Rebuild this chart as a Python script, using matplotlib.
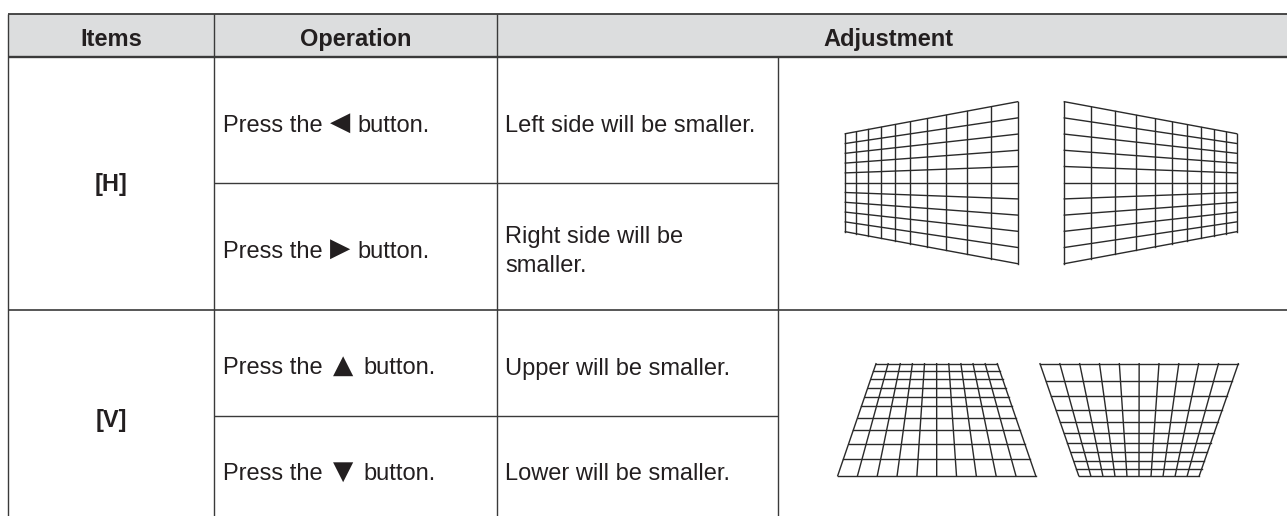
import matplotlib
matplotlib.use("Agg")
import matplotlib.pyplot as plt

W, H = 1287, 516

# table layout, in picture pixels
col_x = [8, 214, 497, 778, 1287]
row_y = [13.5, 57, 183.3, 310, 415.7]
header_labels = ["Items", "Operation", "Adjustment"]
item_labels = ["[H]", "[V]"]
item_y = [191, 426.7]
press_label = "Press the"
button_label = "button."
arrow_labels = ["\u25c0", "\u25b6", "\u25b2", "\u25bc"]
arrow_x = [339.7, 340.5, 342.7, 342.7]
arrow_y = [122.5, 249, 366, 472]
button_x = [357.7, 357.7, 363.3, 363.3]
op_y = [131.7, 258, 374.5, 480]
adjustment_labels = ["Left side will be smaller.", "Right side will be\nsmaller.",
                     "Upper will be smaller.", "Lower will be smaller."]
adjustment_y = [131.7, 271.7, 374.5, 480]

# keystone grids: line positions
hl_x = [845.3, 856.3, 868, 880.7, 894.7, 910, 927, 945.7, 967, 991, 1017.7]
hl_y_narrow = [133.7, 231.7]
hl_y_wide = [101.7, 263.7]
hr_x = [1064.3, 1091.3, 1115, 1136, 1155, 1172, 1187.3, 1201.3, 1214.3, 1225.7, 1236.7]
hr_y_narrow = [133.7, 231.7]
hr_y_wide = [101.7, 263.7]
vl_y = [363.7, 371.3, 379, 387.7, 396.7, 406.3, 417.7, 429.7, 443.7, 459, 475.7]
vl_x_narrow = [876, 997.3]
vl_x_wide = [837.7, 1035.7]
vr_y = [363.7, 380.7, 396, 409.7, 422, 433, 443, 452.3, 461, 468.7, 475.7]
vr_x_wide = [1040, 1238.3]
vr_x_narrow = [1078.7, 1199.3]

plt.rcParams['font.family'] = ['Liberation Sans', 'DejaVu Sans']
text_color = '#231f20'
line_color = '#3a3a3a'
grid_color = '#2a2a2a'
font_size = 17

fig = plt.figure(figsize=(W / 100, H / 100), dpi=100)
ax = fig.add_axes([0, 0, 1, 1])
ax.set_xlim(0, W)
ax.set_ylim(H, 0)
ax.axis('off')

# header
ax.fill_between([col_x[0], col_x[-1]], row_y[0], row_y[1], color='#dcddde', lw=0)


def hline(y, x0, x1, lw=1.0):
    ax.plot([x0, x1], [y, y], c=line_color, lw=lw, solid_capstyle='butt')


def vline(x, y0, y1, lw=1.0):
    ax.plot([x, x], [y0, y1], c=line_color, lw=lw, solid_capstyle='butt')


hline(row_y[0], col_x[0], col_x[-1], 1.3)
hline(row_y[1], col_x[0], col_x[-1], 1.7)
hline(row_y[3], col_x[0], col_x[-1], 1.2)
hline(row_y[2], col_x[1], col_x[3], 1.0)
hline(row_y[4], col_x[1], col_x[3], 1.0)
vline(col_x[0], row_y[0], H)
vline(col_x[1], row_y[0], H)
vline(col_x[2], row_y[0], H)
vline(col_x[3], row_y[1], H)

# header text
for i in range(3):
    x = (col_x[i] + col_x[i + 1]) / 2
    if i == 2:
        x = (col_x[2] + 1279) / 2
    ax.text(x, 45.7, header_labels[i], ha='center', va='baseline',
            fontsize=font_size, fontweight='bold', color=text_color)

# body text
for i in range(2):
    ax.text((col_x[0] + col_x[1]) / 2, item_y[i], item_labels[i], ha='center', va='baseline',
            fontsize=font_size, fontweight='bold', color=text_color)
for i in range(4):
    ax.text(222.7, op_y[i], press_label, ha='left', va='baseline',
            fontsize=font_size, color=text_color)
    ax.text(arrow_x[i], arrow_y[i], arrow_labels[i], ha='center', va='center',
            fontsize=font_size + 2, color=text_color, family='DejaVu Sans')
    ax.text(button_x[i], op_y[i], button_label, ha='left', va='baseline',
            fontsize=font_size, color=text_color)
    # baseline of a two line text is the last line
    ax.text(col_x[2] + 8, adjustment_y[i], adjustment_labels[i], ha='left', va='baseline',
            fontsize=font_size, color=text_color, linespacing=1.37)


def h_grid(xs, y_narrow, y_wide, narrow_left):
    x0, x1 = xs[0], xs[-1]
    for x in xs:
        t = (x - x0) / (x1 - x0)
        if not narrow_left:
            t = 1 - t
        top = y_narrow[0] + (y_wide[0] - y_narrow[0]) * t
        bottom = y_narrow[1] + (y_wide[1] - y_narrow[1]) * t
        ax.plot([x, x], [top, bottom], c=grid_color, lw=1.0)
    for k in range(11):
        f = k / 10
        y_n = y_narrow[0] + (y_narrow[1] - y_narrow[0]) * f
        y_w = y_wide[0] + (y_wide[1] - y_wide[0]) * f
        if narrow_left:
            ax.plot([x0, x1], [y_n, y_w], c=grid_color, lw=1.0)
        else:
            ax.plot([x0, x1], [y_w, y_n], c=grid_color, lw=1.0)


def v_grid(ys, x_top, x_bottom):
    y0, y1 = ys[0], ys[-1]
    for y in ys:
        t = (y - y0) / (y1 - y0)
        left = x_top[0] + (x_bottom[0] - x_top[0]) * t
        right = x_top[1] + (x_bottom[1] - x_top[1]) * t
        ax.plot([left, right], [y, y], c=grid_color, lw=1.0)
    for k in range(11):
        f = k / 10
        ax.plot([x_top[0] + (x_top[1] - x_top[0]) * f, x_bottom[0] + (x_bottom[1] - x_bottom[0]) * f],
                [y0, y1], c=grid_color, lw=1.0)


h_grid(hl_x, hl_y_narrow, hl_y_wide, True)
h_grid(hr_x, hr_y_narrow, hr_y_wide, False)
v_grid(vl_y, vl_x_narrow, vl_x_wide)
v_grid(vr_y, vr_x_wide, vr_x_narrow)

fig.savefig("out.png", dpi=100)
